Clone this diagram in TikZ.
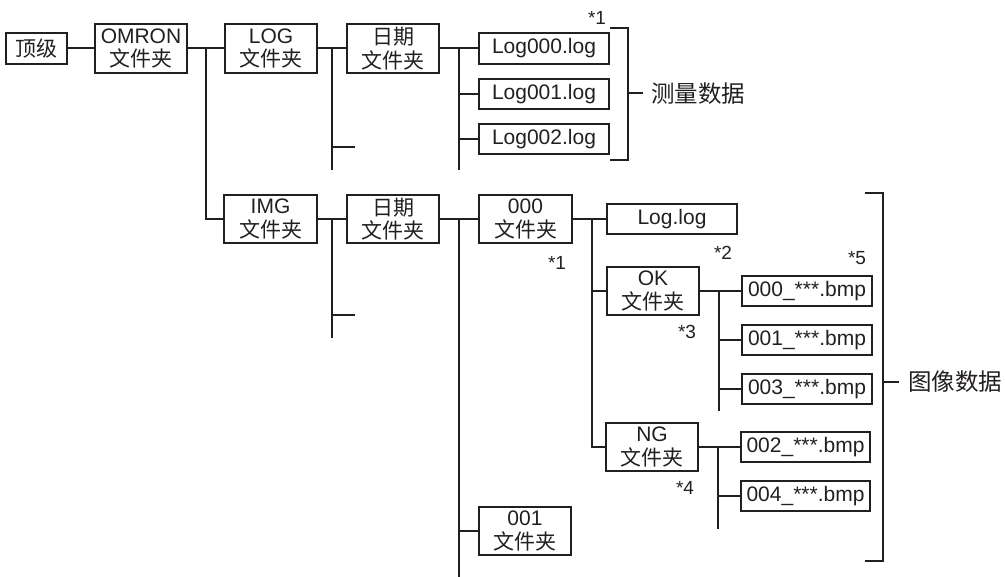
\documentclass[tikz,border=0pt]{standalone}
\usepackage{fontspec}
\setmainfont{Liberation Sans}
\newfontfamily\cjk{Noto Sans CJK SC}
\newcommand{\zh}[1]{{\cjk #1}}
\definecolor{ink}{RGB}{35,31,32}
\begin{document}
\begin{tikzpicture}[x=1pt,y=-1pt,color=ink,line width=2pt,
  box/.style={draw=ink,line width=2pt,rectangle,inner sep=0pt,align=center,text=ink,
    font=\fontsize{21}{23.5}\selectfont},
  fbox/.style={box,minimum width=92pt,minimum height=48pt},
  file/.style={box,minimum width=130pt,minimum height=30pt},
  note/.style={text=ink,inner sep=0pt,font=\fontsize{19}{20}\selectfont},
  brk/.style={draw=ink,line width=2.7pt},
  lbl/.style={text=ink,inner sep=0pt,anchor=west,font=\fontsize{23.5}{25}\selectfont\cjk}]
\useasboundingbox (0,0) rectangle (1005,577);
% nodes
\node[box,minimum width=61pt,minimum height=31pt] (top) at (36.5,48.5) {\zh{顶级}};
\node[fbox,minimum height=49pt] (omron) at (141,48.5) {OMRON\\\zh{文件夹}};
\node[fbox,minimum height=49pt] (log) at (271,48.5) {LOG\\\zh{文件夹}};
\node[fbox,minimum height=49pt] (date1) at (393,48.5) {\zh{日期}\\\zh{文件夹}};
\node[file,minimum height=31pt] (l000) at (544,48.5) {Log000.log};
\node[file] (l001) at (544,94) {Log001.log};
\node[file] (l002) at (544,139) {Log002.log};
\node[fbox,minimum width=93pt] (img) at (270.5,219) {IMG\\\zh{文件夹}};
\node[fbox] (date2) at (393,219) {\zh{日期}\\\zh{文件夹}};
\node[fbox,minimum width=93pt] (f000) at (525.5,219) {000\\\zh{文件夹}};
\node[file] (loglog) at (672,219) {Log.log};
\node[fbox] (ok) at (653,291) {OK\\\zh{文件夹}};
\node[file] (b000) at (807,291) {000\_***.bmp};
\node[file] (b001) at (807,340) {001\_***.bmp};
\node[file] (b003) at (807,389) {003\_***.bmp};
\node[fbox] (ng) at (652,447) {NG\\\zh{文件夹}};
\node[file,minimum width=129pt] (b002) at (805.5,447) {002\_***.bmp};
\node[file,minimum width=129pt] (b004) at (805.5,496) {004\_***.bmp};
\node[fbox] (f001) at (525,531) {001\\\zh{文件夹}};
% notes
\node[note] (n1a) at (597,18) {*1};
\node[note] (n1b) at (557,263) {*1};
\node[note] (n2) at (723,253) {*2};
\node[note] (n3) at (687,332) {*3};
\node[note] (n4) at (685,488) {*4};
\node[note] (n5) at (857,258) {*5};
% junction coordinates
\coordinate (j1) at (206,48.5);
\coordinate (j2) at (332,48.5);
\coordinate (j2e) at (332,170);
\coordinate (j2s) at (355,147);
\coordinate (j3) at (459,48.5);
\coordinate (j3e) at (459,170);
\coordinate (j4) at (332,219);
\coordinate (j4e) at (332,338);
\coordinate (j4s) at (355,315);
\coordinate (j5) at (459,219);
\coordinate (j5e) at (459,577);
\coordinate (j6) at (592,219);
\coordinate (j7) at (719,291);
\coordinate (j7e) at (719,411);
\coordinate (j8) at (718,447);
\coordinate (j8e) at (718,529);
% connectors
\draw (top) -- (omron);
\draw (omron) -- (log);
\draw (j1) |- (img.west);
\draw (log) -- (date1);
\draw (j2) -- (j2e);
\draw (j2 |- j2s) -- (j2s);
\draw (date1) -- (l000);
\draw (j3) -- (j3e);
\draw (j3 |- l001.west) -- (l001.west);
\draw (j3 |- l002.west) -- (l002.west);
\draw (img) -- (date2);
\draw (j4) -- (j4e);
\draw (j4 |- j4s) -- (j4s);
\draw (date2) -- (f000);
\draw (j5) -- (j5e);
\draw (j5 |- f001.west) -- (f001.west);
\draw (f000) -- (loglog);
\draw (j6) |- (ng.west);
\draw (j6 |- ok.west) -- (ok.west);
\draw (ok) -- (b000);
\draw (j7) -- (j7e);
\draw (j7 |- b001.west) -- (b001.west);
\draw (j7 |- b003.west) -- (b003.west);
\draw (ng) -- (b002);
\draw (j8) -- (j8e);
\draw (j8 |- b004.west) -- (b004.west);
% brackets
\coordinate (ba1) at (610,28);
\coordinate (ba2) at (628,28);
\coordinate (ba3) at (628,160);
\coordinate (ba4) at (610,160);
\coordinate (bam) at (628,93);
\coordinate (bamE) at (643,93);
\node[lbl] (meas) at (650,94) {测量数据};
\draw[brk] (ba1) -- (ba2) -- (ba3) -- (ba4);
\draw[brk] (bam) -- (bamE);
\coordinate (bb1) at (865,193);
\coordinate (bb2) at (883,193);
\coordinate (bb3) at (883,561);
\coordinate (bb4) at (865,561);
\coordinate (bbm) at (883,382);
\coordinate (bbmE) at (899,382);
\node[lbl] (imgd) at (907,382) {图像数据};
\draw[brk] (bb1) -- (bb2) -- (bb3) -- (bb4);
\draw[brk] (bbm) -- (bbmE);
\end{tikzpicture}
\end{document}
